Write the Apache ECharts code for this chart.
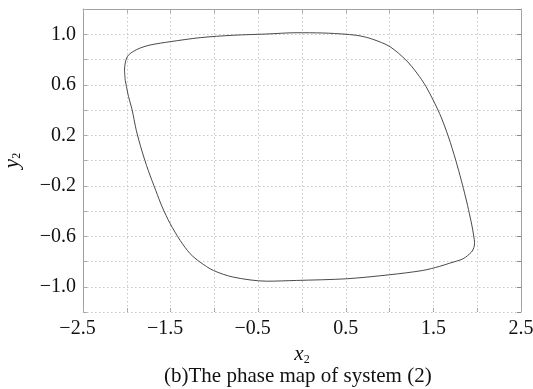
<!DOCTYPE html>
<html>
<head>
<meta charset="utf-8">
<script src="https://cdn.jsdelivr.net/npm/echarts@6/dist/echarts.min.js"></script>
<style>
html,body{margin:0;padding:0;background:#fff;}
#c{width:533px;height:389px;}
</style>
</head>
<body>
<div id="c"></div>
<script>
// Phase trajectory (x2, y2), read clockwise from the upper-left corner
var xValues = [-2.018,-2.026,-2.018,-2.001,-1.980,-1.927,-1.847,-1.733,-1.505,-1.163,-0.787,-0.399,-0.068,0.239,0.502,0.661,0.809,1.003,1.186,1.311,1.417,1.570,1.672,1.755,1.818,1.867,1.911,1.943,1.962,1.970,1.962,1.935,1.839,1.687,1.573,1.379,1.000,0.505,-0.065,-0.402,-0.783,-1.011,-1.163,-1.277,-1.391,-1.505,-1.596,-1.670,-1.756,-1.830,-1.892,-1.941,-1.980,-2.018];
var yValues = [0.637,0.717,0.772,0.812,0.836,0.863,0.891,0.915,0.941,0.973,0.992,1.002,1.012,1.010,1.000,0.987,0.960,0.902,0.796,0.693,0.584,0.373,0.187,0.002,-0.156,-0.289,-0.421,-0.527,-0.606,-0.650,-0.690,-0.725,-0.778,-0.813,-0.838,-0.871,-0.905,-0.937,-0.950,-0.956,-0.924,-0.871,-0.805,-0.738,-0.633,-0.500,-0.368,-0.236,-0.077,0.082,0.240,0.407,0.505,0.637];
var xTickLabels = [-2.5,-1.5,-0.5,0.5,1.5,2.5];
var yTickLabels = [-1.0,-0.6,-0.2,0.2,0.6,1.0];
var caption = '(b)The phase map of system (2)';

var FONT = '"Liberation Serif","Times New Roman",serif';
var data = xValues.map(function(x,i){return [x, yValues[i]];});
function has(list, v){ for (var i=0;i<list.length;i++){ if (Math.abs(list[i]-v)<1e-6) return true; } return false; }
function fmt(v){ var s = v.toFixed(1); return s.charAt(0)==='-' ? '\u2212'+s.slice(1) : s; }

var gridLine = {show:true, lineStyle:{color:'#c8c8c8', type:[1.5,2.5], width:1}};
var chart = echarts.init(document.getElementById('c'), null, {renderer:'canvas'});
chart.setOption({
  animation:false,
  backgroundColor:'#ffffff',
  title:{text:caption, left:159, top:361, textStyle:{fontFamily:FONT, fontSize:21, fontWeight:'normal', color:'#111'}},
  grid:{left:83, right:12, top:9, bottom:77, containLabel:false, outerBoundsMode:'none'},
  xAxis:[{
    type:'value', min:-2.5, max:2.5, interval:0.5, position:'bottom',
    axisLine:{show:false, onZero:false},
    axisTick:{show:true, inside:true, length:4, lineStyle:{color:'#aaa'}},
    splitLine:gridLine,
    axisLabel:{margin:7, fontFamily:FONT, fontSize:20, color:'#111',
      formatter:function(v){ if(!has(xTickLabels,v)) return ''; return v<0 ? fmt(v)+'{p|}' : fmt(v); },
      rich:{p:{width:11}}},
    name:'{i|x}{s|2}', nameLocation:'middle', nameGap:23,
    nameTextStyle:{rich:{i:{fontFamily:FONT, fontStyle:'italic', fontSize:21, color:'#111'}, s:{fontFamily:FONT, fontSize:12, color:'#111', padding:[10,0,0,0]}}}
  },{
    type:'value', min:-2.5, max:2.5, interval:0.5, position:'top',
    axisLine:{show:true, onZero:false, lineStyle:{color:'#a0a0a0'}},
    axisTick:{show:true, inside:true, length:4, lineStyle:{color:'#aaa'}},
    axisLabel:{show:false}, splitLine:{show:false}
  }],
  yAxis:[{
    type:'value', min:-1.2, max:1.2, interval:0.2, position:'left',
    axisLine:{show:true, onZero:false, lineStyle:{color:'#a0a0a0'}},
    axisTick:{show:true, inside:true, length:4, lineStyle:{color:'#aaa'}},
    splitLine:gridLine,
    axisLabel:{margin:7, fontFamily:FONT, fontSize:20, color:'#111',
      formatter:function(v){ return has(yTickLabels,v) ? fmt(v) : ''; }},
    name:'{i|y}{s|2}', nameLocation:'middle', nameGap:60, nameRotate:90,
    nameTextStyle:{rich:{i:{fontFamily:FONT, fontStyle:'italic', fontSize:21, color:'#111'}, s:{fontFamily:FONT, fontSize:12, color:'#111', padding:[10,0,0,0]}}}
  },{
    type:'value', min:-1.2, max:1.2, interval:0.2, position:'right',
    axisLine:{show:true, onZero:false, lineStyle:{color:'#a0a0a0'}},
    axisTick:{show:true, inside:true, length:4, lineStyle:{color:'#888'}},
    axisLabel:{show:false}, splitLine:{show:false}
  }],
  series:[{
    type:'line', xAxisIndex:0, yAxisIndex:0, data:data,
    showSymbol:false, smooth:0.3, clip:true,
    lineStyle:{color:'#4a4a4a', width:1}
  }]
});
</script>
</body>
</html>
